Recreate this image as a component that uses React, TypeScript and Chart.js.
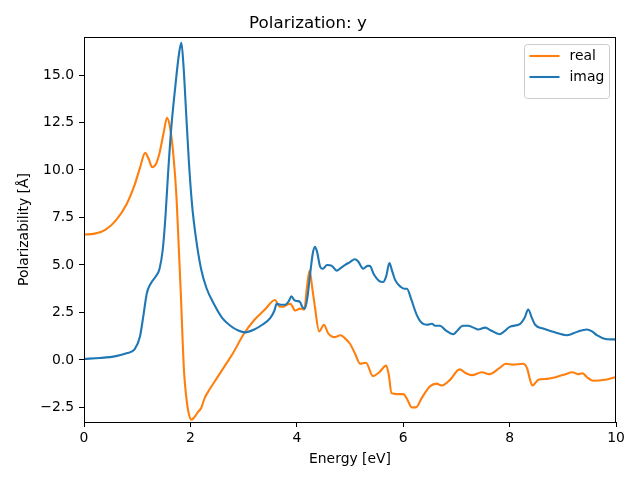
import React, { useEffect, useRef } from "react";
import { Chart, registerables } from "chart.js";

Chart.register(...registerables);

const realX = [0.0, 0.2, 0.4, 0.6, 0.8, 0.95, 1.05, 1.15, 1.22, 1.28, 1.35, 1.42, 1.5, 1.56, 1.62, 1.68, 1.74, 1.78, 1.82, 1.85, 1.88, 1.92, 1.96, 2.02, 2.08, 2.14, 2.2, 2.27, 2.35, 2.5, 2.65, 2.8, 3.0, 3.2, 3.4, 3.59, 3.68, 3.75, 3.81, 3.88, 3.97, 4.06, 4.14, 4.19, 4.24, 4.29, 4.34, 4.42, 4.51, 4.59, 4.72, 4.82, 4.9, 5.0, 5.1, 5.19, 5.3, 5.43, 5.55, 5.68, 5.73, 5.78, 5.88, 6.0, 6.08, 6.16, 6.24, 6.35, 6.5, 6.63, 6.72, 6.88, 7.06, 7.18, 7.29, 7.48, 7.62, 7.8, 7.93, 8.07, 8.25, 8.33, 8.38, 8.43, 8.54, 8.7, 8.88, 9.05, 9.18, 9.28, 9.37, 9.45, 9.57, 9.79, 10.0];
const realY = [6.6, 6.65, 6.85, 7.35, 8.2, 9.2, 10.1, 10.9, 10.55, 10.15, 10.3, 10.9, 12.0, 12.75, 12.2, 10.8, 8.5, 6.0, 3.5, 1.3, -0.6, -1.9, -2.7, -3.15, -3.0, -2.75, -2.55, -2.0, -1.6, -0.95, -0.3, 0.35, 1.35, 2.1, 2.65, 3.15, 2.8, 2.8, 2.9, 2.95, 2.6, 2.7, 2.65, 3.8, 4.7, 3.8, 2.8, 1.5, 1.85, 1.4, 1.2, 1.3, 1.15, 0.85, 0.3, -0.2, -0.15, -0.85, -0.65, -0.3, -0.8, -1.75, -1.8, -1.8, -2.1, -2.5, -2.5, -2.0, -1.4, -1.25, -1.35, -1.05, -0.5, -0.7, -0.8, -0.65, -0.75, -0.45, -0.2, -0.25, -0.2, -0.45, -1.0, -1.35, -1.05, -1.0, -0.9, -0.75, -0.65, -0.75, -0.7, -0.9, -1.1, -1.05, -0.9];

const imagX = [0.0, 0.3, 0.6, 0.8, 0.95, 1.05, 1.12, 1.18, 1.25, 1.35, 1.42, 1.48, 1.53, 1.58, 1.64, 1.72, 1.79, 1.83, 1.87, 1.92, 1.97, 2.03, 2.1, 2.2, 2.3, 2.45, 2.6, 2.75, 2.9, 3.03, 3.2, 3.35, 3.5, 3.58, 3.62, 3.7, 3.78, 3.85, 3.9, 3.95, 4.0, 4.06, 4.1, 4.15, 4.2, 4.25, 4.3, 4.34, 4.38, 4.44, 4.49, 4.57, 4.66, 4.75, 4.83, 4.91, 5.0, 5.09, 5.15, 5.25, 5.33, 5.37, 5.45, 5.55, 5.62, 5.68, 5.74, 5.79, 5.85, 5.95, 6.02, 6.07, 6.15, 6.25, 6.33, 6.45, 6.54, 6.6, 6.69, 6.8, 6.94, 7.02, 7.12, 7.22, 7.32, 7.41, 7.54, 7.65, 7.81, 7.9, 8.01, 8.2, 8.28, 8.35, 8.42, 8.48, 8.63, 8.85, 9.07, 9.2, 9.29, 9.45, 9.55, 9.64, 9.8, 9.9, 10.0];
const imagY = [0.05, 0.1, 0.2, 0.35, 0.55, 1.2, 2.4, 3.5, 4.0, 4.4, 4.8, 5.8, 7.5, 9.8, 12.2, 14.5, 16.2, 16.7, 15.5, 13.0, 10.5, 8.2, 6.5, 4.8, 3.8, 2.9, 2.2, 1.8, 1.55, 1.45, 1.6, 1.85, 2.2, 2.6, 2.95, 2.9, 2.9, 3.1, 3.35, 3.15, 3.1, 3.05, 2.8, 2.7, 3.3, 4.5, 5.6, 5.95, 5.7, 4.9, 4.8, 5.0, 4.95, 4.7, 4.85, 5.0, 5.15, 5.3, 5.2, 4.8, 4.95, 4.95, 4.5, 4.15, 4.1, 4.4, 5.1, 4.7, 4.2, 3.85, 3.75, 3.75, 3.2, 2.4, 2.0, 1.85, 1.9, 1.8, 1.8, 1.55, 1.35, 1.55, 1.8, 1.8, 1.7, 1.6, 1.7, 1.55, 1.35, 1.5, 1.75, 1.9, 2.2, 2.65, 2.2, 1.85, 1.65, 1.45, 1.3, 1.4, 1.5, 1.6, 1.5, 1.3, 1.1, 1.08, 1.08];

const titleText = "Polarization: y";
const xLabel = "Energy [eV]";
const yLabel = "Polarizability [Å]";
const legendLabels = ["real", "imag"];
const colors = ["#ff7f0e", "#1f77b4"];

const FONT = "'DejaVu Sans', sans-serif";

const framePlugin = {
  id: "frameAndLegend",
  afterDraw(chart: any) {
    const { ctx, chartArea } = chart;
    ctx.save();
    // frame
    ctx.strokeStyle = "#000";
    ctx.lineWidth = 1;
    ctx.strokeRect(
      Math.round(chartArea.left) + 0.5,
      Math.round(chartArea.top) + 0.5,
      Math.round(chartArea.right - chartArea.left) - 1,
      Math.round(chartArea.bottom - chartArea.top)
    );
    // legend
    const lx = 524.5, ly = 44.5, lw = 85, lh = 54, r = 3;
    ctx.beginPath();
    ctx.moveTo(lx + r, ly);
    ctx.lineTo(lx + lw - r, ly);
    ctx.arcTo(lx + lw, ly, lx + lw, ly + r, r);
    ctx.lineTo(lx + lw, ly + lh - r);
    ctx.arcTo(lx + lw, ly + lh, lx + lw - r, ly + lh, r);
    ctx.lineTo(lx + r, ly + lh);
    ctx.arcTo(lx, ly + lh, lx, ly + lh - r, r);
    ctx.lineTo(lx, ly + r);
    ctx.arcTo(lx, ly, lx + r, ly, r);
    ctx.closePath();
    ctx.fillStyle = "rgba(255,255,255,0.8)";
    ctx.fill();
    ctx.strokeStyle = "#cccccc";
    ctx.lineWidth = 1;
    ctx.stroke();
    ctx.font = `13.9px ${FONT}`;
    ctx.textBaseline = "middle";
    ctx.textAlign = "left";
    legendLabels.forEach((lab, i) => {
      const yy = 56 + i * 21;
      ctx.strokeStyle = colors[i];
      ctx.lineWidth = 2.1;
      ctx.beginPath();
      ctx.moveTo(529.5, yy);
      ctx.lineTo(559.5, yy);
      ctx.stroke();
      ctx.fillStyle = "#000";
      ctx.fillText(lab, 569.5, yy);
    });
    ctx.restore();
  },
};

export default function App() {
  const ref = useRef<HTMLCanvasElement | null>(null);
  useEffect(() => {
    document.body.style.margin = "0";
    const canvas = ref.current;
    if (!canvas) return;
    const chart = new Chart(canvas, {
      type: "line",
      data: {
        datasets: [
          {
            label: legendLabels[0],
            data: realX.map((x, i) => ({ x, y: realY[i] })),
            borderColor: colors[0],
            backgroundColor: colors[0],
            borderWidth: 2.1,
            pointRadius: 0,
            cubicInterpolationMode: "monotone",
            order: 1,
          },
          {
            label: legendLabels[1],
            data: imagX.map((x, i) => ({ x, y: imagY[i] })),
            borderColor: colors[1],
            backgroundColor: colors[1],
            borderWidth: 2.1,
            pointRadius: 0,
            cubicInterpolationMode: "monotone",
            order: 0,
          },
        ],
      },
      options: {
        responsive: false,
        animation: false,
        layout: { padding: { top: 0, right: 24, left: 0, bottom: 0 } },
        plugins: {
          legend: { display: false },
          tooltip: { enabled: false },
          title: {
            display: true,
            text: titleText,
            color: "#000",
            font: { family: FONT, size: 16.7, weight: "normal" },
            padding: { top: 13.5, bottom: 3.5 },
          },
        },
        scales: {
          x: {
            type: "linear",
            min: 0,
            max: 10,
            afterFit: (s: any) => { s.height = 58; },
            ticks: {
              stepSize: 2,
              color: "#000",
              font: { family: FONT, size: 13.9 },
              padding: 3,
              maxRotation: 0,
              callback: (v: any) => String(v),
            },
            grid: { display: true, drawOnChartArea: false, drawTicks: true, tickLength: 5, color: "#000" },
            border: { display: false },
            title: {
              display: true,
              text: xLabel,
              color: "#000",
              font: { family: FONT, size: 13.9 },
              padding: { top: 0, bottom: 12.2 },
            },
          },
          y: {
            type: "linear",
            min: -3.27,
            max: 17.0,
            afterFit: (s: any) => { s.width = 84; },
            ticks: {
              stepSize: 2.5,
              includeBounds: false,
              color: "#000",
              font: { family: FONT, size: 13.9 },
              padding: 5,
              callback: (v: any) => (v < 0 ? "\u2212" : "") + Math.abs(v).toFixed(1),
            },
            grid: { display: true, drawOnChartArea: false, drawTicks: true, tickLength: 5, color: "#000" },
            border: { display: false },
            title: {
              display: true,
              text: yLabel,
              color: "#000",
              font: { family: FONT, size: 13.9 },
              padding: { top: 15.9, bottom: 0 },
            },
          },
        },
      },
      plugins: [framePlugin],
    } as any);
    return () => chart.destroy();
  }, []);
  return (
    <div style={{ position: "absolute", left: 0, top: 0, width: 640, height: 480, background: "#fff" }}>
      <canvas ref={ref} width={640} height={480} style={{ display: "block" }} />
    </div>
  );
}
